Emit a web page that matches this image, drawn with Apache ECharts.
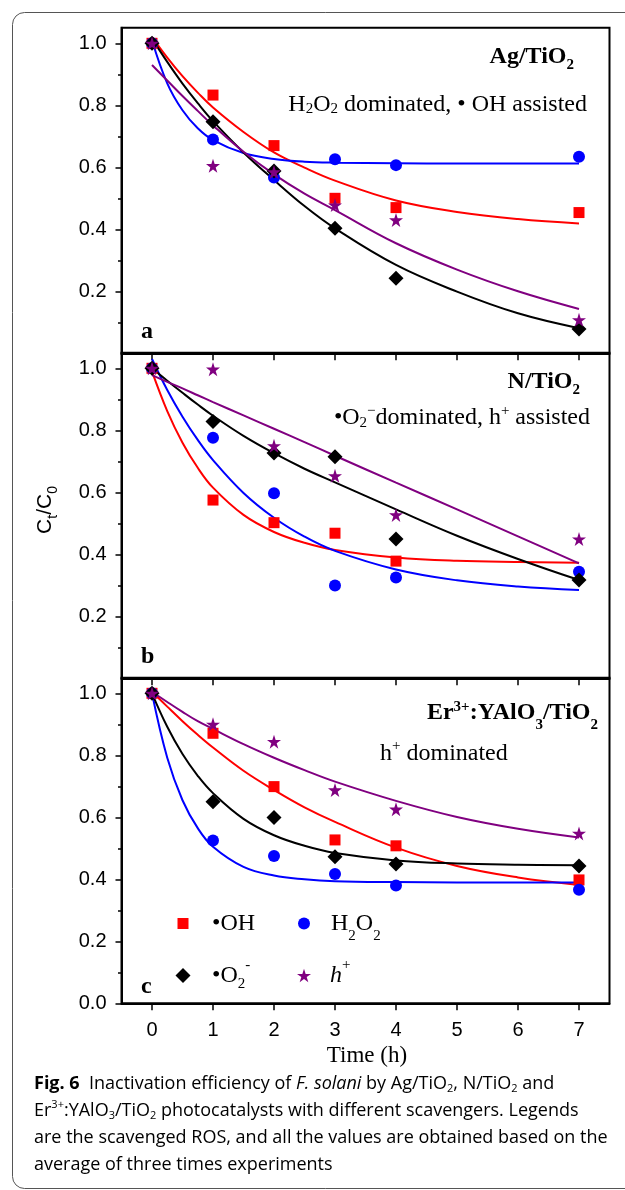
<!DOCTYPE html>
<html><head><meta charset="utf-8">
<script src="https://cdn.jsdelivr.net/npm/echarts@6/dist/echarts.min.js"></script>
<style>html,body{margin:0;padding:0;background:#fff}#c{width:625px;height:1190px}</style>
</head><body><div id="c"></div>
<script>
// ---- data ----
const timePoints = [0, 1, 2, 3, 4, 7];
const fitTimes = [0, 0.25, 0.5, 0.75, 1, 1.5, 2, 2.5, 3, 4, 5, 6, 7];
const xTicks = [0, 1, 2, 3, 4, 5, 6, 7];
const yTicksAB = [0.2, 0.4, 0.6, 0.8, 1.0];
const yTicksC = [0, 0.2, 0.4, 0.6, 0.8, 1.0];
const yMinorTicks = [0.1, 0.3, 0.5, 0.7, 0.9];

// panel a: Ag/TiO2
const agOH   = [1.0, 0.833, 0.670, 0.500, 0.470, 0.454];
const agH2O2 = [1.0, 0.690, 0.567, 0.626, 0.607, 0.634];
const agO2   = [1.0, 0.747, 0.588, 0.403, 0.242, 0.078];
const agH    = [1.0, 0.605, 0.585, 0.478, 0.430, 0.108];
const agOHFit   = [1.02, 0.954, 0.894, 0.841, 0.793, 0.714, 0.648, 0.599, 0.557, 0.493, 0.456, 0.433, 0.419];
const agH2O2Fit = [1.01, 0.871, 0.784, 0.726, 0.688, 0.646, 0.627, 0.618, 0.615, 0.613, 0.612, 0.612, 0.612];
const agO2Fit   = [1.015, 0.94, 0.87, 0.807, 0.749, 0.648, 0.559, 0.475, 0.403, 0.285, 0.199, 0.129, 0.081];
const agHFit    = [0.93, 0.88, 0.83, 0.782, 0.735, 0.65, 0.577, 0.515, 0.462, 0.355, 0.27, 0.2, 0.143];

// panel b: N/TiO2
const nOH   = [1.0, 0.575, 0.502, 0.468, 0.378, null];
const nH2O2 = [1.0, 0.776, 0.597, 0.299, 0.325, 0.344];
const nO2   = [1.0, 0.828, 0.727, 0.715, 0.449, 0.317];
const nH    = [1.0, 0.997, 0.750, 0.653, 0.527, 0.449];
const nOHFit   = [0.99, 0.862, 0.76, 0.679, 0.615, 0.527, 0.472, 0.437, 0.414, 0.390, 0.379, 0.375, 0.373];
const nH2O2Fit = [1.03, 0.93, 0.844, 0.769, 0.704, 0.598, 0.518, 0.457, 0.411, 0.351, 0.316, 0.296, 0.285];
const nO2Fit   = [1.0, 0.96, 0.921, 0.883, 0.847, 0.782, 0.726, 0.676, 0.632, 0.545, 0.46, 0.385, 0.317];
const nHFit    = [0.978, 0.956, 0.935, 0.913, 0.891, 0.848, 0.805, 0.762, 0.718, 0.631, 0.545, 0.458, 0.371];

// panel c: Er3+:YAlO3/TiO2
const erOH   = [1.0, 0.871, 0.699, 0.527, 0.508, 0.398];
const erH2O2 = [1.0, 0.525, 0.475, 0.417, 0.380, 0.366];
const erO2   = [1.0, 0.650, 0.599, 0.473, 0.449, 0.443];
const erH    = [1.0, 0.900, 0.844, 0.688, 0.626, 0.548];
const erOHFit   = [1.005, 0.957, 0.91, 0.866, 0.825, 0.75, 0.688, 0.632, 0.585, 0.502, 0.443, 0.406, 0.382];
const erH2O2Fit = [1.0, 0.792, 0.655, 0.565, 0.505, 0.44, 0.412, 0.4, 0.394, 0.391, 0.39, 0.39, 0.39];
const erO2Fit   = [1.0, 0.892, 0.804, 0.734, 0.678, 0.595, 0.542, 0.508, 0.485, 0.461, 0.451, 0.447, 0.445];
const erHFit    = [1.005, 0.972, 0.94, 0.91, 0.885, 0.836, 0.792, 0.752, 0.715, 0.653, 0.601, 0.563, 0.535];

// ---- styling ----
const SERIF = '"Liberation Serif", "Times New Roman", serif';
const SANS = '"Liberation Sans", Arial, sans-serif';
const CAP = '"Open Sans", "Noto Sans", sans-serif';
const RED = '#ff0000', BLUE = '#0000ff', BLACK = '#000000', PURPLE = '#800080';
const STAR = 'path://M50,0 L61.2,34.5 L97.6,34.5 L68.2,55.9 L79.4,90.5 L50,69.1 L20.6,90.5 L31.8,55.9 L2.4,34.5 L38.8,34.5 Z';

// rich text styles: sub/sup offsets controlled by token box height inside the line box
function mk(size, weight, family, L, subH, supH, color) {
  const c = color || '#000';
  const ss = Math.round(size * 0.62);
  return {
    n: {fontSize: size, fontWeight: weight, fontFamily: family, lineHeight: L, verticalAlign: 'middle', color: c},
    i: {fontSize: size, fontStyle: 'italic', fontWeight: weight, fontFamily: family, lineHeight: L, verticalAlign: 'middle', color: c},
    b: {fontSize: size, fontWeight: 'bold', fontFamily: family, lineHeight: L, verticalAlign: 'middle', color: c},
    sub: {fontSize: ss, fontWeight: weight, fontFamily: family, lineHeight: 1, height: subH, verticalAlign: 'bottom', color: c},
    sup: {fontSize: ss, fontWeight: weight, fontFamily: family, lineHeight: 1, height: supH, verticalAlign: 'top', color: c},
    g1: {width: 18.5, lineHeight: L, verticalAlign: 'middle'},
    g2: {width: 16, lineHeight: L, verticalAlign: 'middle'},
    g3: {width: 16.5, lineHeight: L, verticalAlign: 'middle'},
    g4: {width: 14, lineHeight: L, verticalAlign: 'middle'}
  };
}
const R_AGN = mk(24, 'bold', SERIF, 24, 8, 10);
const R_ER = mk(24, 'bold', SERIF, 24, 0.5, 12);
const R_H2O2 = mk(24, 'normal', SERIF, 24, 15, 10);
const R_O2 = mk(24, 'normal', SERIF, 24, 13, 10);
const R_HD = mk(24, 'normal', SERIF, 24, 13, 8);
const R_LEG = mk(24, 'normal', SERIF, 28, 2, 9);
const R_LEG2 = mk(24, 'normal', SERIF, 28, 10, 8);

const panels = [
  {pts: [agOH, agH2O2, agO2, agH], fits: [agOHFit, agH2O2Fit, agO2Fit, agHFit], ticks: yTicksAB},
  {pts: [nOH, nH2O2, nO2, nH], fits: [nOHFit, nH2O2Fit, nO2Fit, nHFit], ticks: yTicksAB},
  {pts: [erOH, erH2O2, erO2, erH], fits: [erOHFit, erH2O2Fit, erO2Fit, erHFit], ticks: yTicksC}
];
const names = ['OH', 'H2O2', 'O2', 'h'];
const colors = [RED, BLUE, BLACK, PURPLE];
const symbols = ['rect', 'circle', 'diamond', STAR];
const sizes = [11, 12, 15, 14];

const gridTops = [27.8, 352.8, 677.8];
const grids = [], xAxes = [], yAxes = [], lineSeries = [], dotSeries = [];
panels.forEach((p, k) => {
  grids.push({left: 121.5, top: gridTops[k], width: 488, height: 325.5, show: true,
    borderColor: '#000', borderWidth: 2, backgroundColor: 'transparent', containLabel: false});
  xAxes.push({type: 'value', gridIndex: k, min: -0.5, max: 7.5, position: 'bottom',
    axisLine: {show: true, onZero: false, lineStyle: {color: '#000', width: 2}},
    axisTick: {show: true, inside: false, length: 7, customValues: xTicks, lineStyle: {color: '#000', width: 1.5}},
    axisLabel: {show: k === 2, customValues: xTicks, fontSize: 20, fontFamily: SANS, color: '#000', margin: 17},
    splitLine: {show: false}});
  yAxes.push({type: 'value', gridIndex: k, min: 0, max: 1.05, position: 'left',
    axisLine: {show: true, onZero: false, lineStyle: {color: '#000', width: 2}},
    axisTick: {show: true, inside: false, length: 6, customValues: p.ticks, lineStyle: {color: '#000', width: 1.5}},
    axisLabel: {show: true, customValues: p.ticks, formatter: v => Number(v).toFixed(1), fontSize: 20, fontFamily: SANS, color: '#000', margin: 15},
    splitLine: {show: false}});
  yAxes.push({type: 'value', gridIndex: k, min: 0, max: 1.05, position: 'left',
    axisLine: {show: false, onZero: false},
    axisTick: {show: true, inside: false, length: 3.5, customValues: yMinorTicks, lineStyle: {color: '#000', width: 1.5}},
    axisLabel: {show: false},
    splitLine: {show: false}});
  for (let s = 0; s < 4; s++) {
    lineSeries.push({type: 'line', name: names[s] + ' fit', xAxisIndex: k, yAxisIndex: 2 * k,
      data: fitTimes.map((t, i) => [t, p.fits[s][i]]), smooth: 0.4,
      showSymbol: false, symbol: 'none', silent: true,
      lineStyle: {color: colors[s], width: 2}, z: 2});
    dotSeries.push({type: 'scatter', name: names[s], xAxisIndex: k, yAxisIndex: 2 * k,
      data: timePoints.map((t, i) => [t, p.pts[s][i]]).filter(d => d[1] != null),
      symbol: symbols[s], symbolSize: sizes[s], itemStyle: {color: colors[s], opacity: 1}, z: 3, silent: true});
  }
});

function legendItem(name, label, cx, top, sz, r) {
  return {data: [name], left: cx - sz / 2, top: top, itemWidth: sz, itemHeight: sz, padding: 0,
    selectedMode: false, formatter: () => label,
    textStyle: {fontSize: 24, fontFamily: SERIF, color: '#000', rich: r}};
}

function txt(x, y, text, r, align, extra) {
  return Object.assign({type: 'text', x: x, y: y, silent: true,
    style: {text: text, rich: r, align: align, verticalAlign: 'middle', fill: '#000'}}, extra || {});
}
const RC = mk(18, 'normal', CAP, 22, 12, 10, '#333');
RC.b.color = '#222';
const RY = {
  c: {fontSize: 21, fontFamily: SANS, color: '#000', lineHeight: 22, verticalAlign: 'middle'},
  s: {fontSize: 14, fontFamily: SANS, color: '#000', lineHeight: 1, height: 6, verticalAlign: 'bottom'}
};

const graphics = [
  {type: 'rect', silent: true, shape: {x: 12.5, y: 12.5, width: 700, height: 1176, r: 12},
    style: {fill: 'none', stroke: '#555', lineWidth: 1}},
  txt(574, 57, '{n|Ag/TiO}{sub|2}', R_AGN, 'right'),
  txt(587, 104.5, '{n|H}{sub|2}{n|O}{sub|2}{n| dominated, • OH assisted}', R_H2O2, 'right'),
  txt(141, 332, '{n|a}', R_AGN, 'left'),
  txt(580, 382, '{n|N/TiO}{sub|2}', R_AGN, 'right'),
  txt(590, 418, '{n|•O}{sub|2}{sup|−}{n|dominated, h}{sup|+}{n| assisted}', R_O2, 'right'),
  txt(141, 657, '{n|b}', R_AGN, 'left'),
  txt(598, 713, '{n|Er}{sup|3+}{n|:YAlO}{sub|3}{n|/TiO}{sub|2}', R_ER, 'right'),
  txt(380, 754, '{n|h}{sup|+}{n| dominated}', R_HD, 'left'),
  txt(141, 987, '{n|c}', R_AGN, 'left'),
  txt(367, 1056, '{n|Time (h)}', mk(23, 'normal', SERIF, 23, 12, 10), 'center'),
  txt(45, 510, '{c|C}{s|t}{c|/C}{s|0}', RY, 'center', {rotation: Math.PI / 2}),
  txt(34, 1084, '{b|Fig. 6}{n|  Inactivation efficiency of }{i|F. solani}{n| by Ag/TiO}{sub|2}{n|, N/TiO}{sub|2}{n| and}', RC, 'left'),
  txt(34, 1111, '{n|Er}{sup|3+}{n|:YAlO}{sub|3}{n|/TiO}{sub|2}{n| photocatalysts with different scavengers. Legends}', RC, 'left'),
  txt(34, 1138, '{n|are the scavenged ROS, and all the values are obtained based on the}', RC, 'left'),
  txt(34, 1165, '{n|average of three times experiments}', RC, 'left')
];

const chart = echarts.init(document.getElementById('c'), null, {renderer: 'canvas'});
chart.setOption({
  animation: false,
  backgroundColor: '#fff',
  grid: grids,
  xAxis: xAxes,
  yAxis: yAxes,
  legend: [
    legendItem('OH', '{g1|}{n|•OH}', 183, 911.5, 11, R_LEG),
    legendItem('H2O2', '{g2|}{n|H}{sub|2}{n|O}{sub|2}', 304, 911.5, 12, R_LEG),
    legendItem('O2', '{g3|}{n|•O}{sub|2}{sup|-}', 183, 958, 15, R_LEG2),
    legendItem('h', '{g4|}{i|h}{sup|+}', 304, 958, 14, R_LEG2)
  ],
  series: lineSeries.concat(dotSeries),
  graphic: graphics
});
</script>
</body></html>
